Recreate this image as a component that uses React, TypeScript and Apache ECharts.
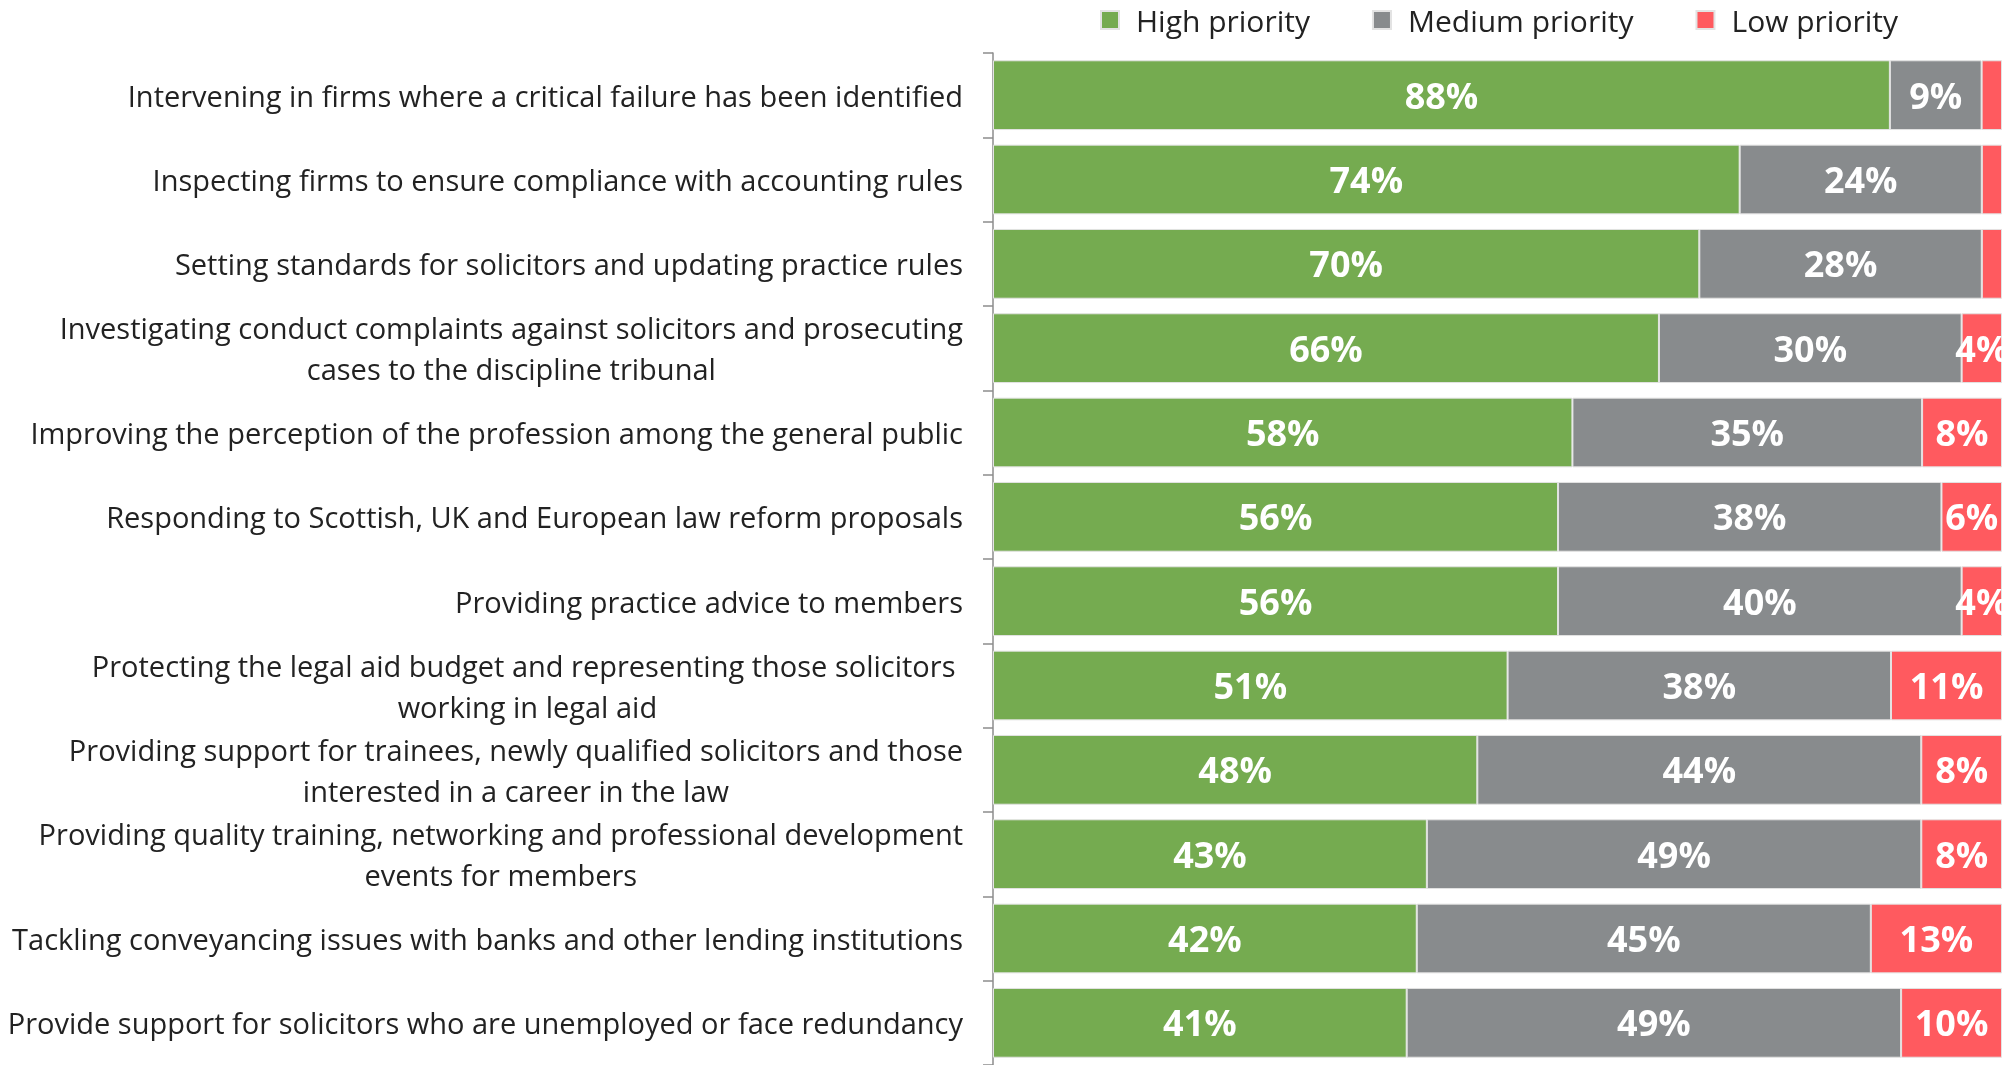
import React, { useEffect, useRef } from "react";
import * as echarts from "echarts";

const categories = [
  "Intervening in firms where a critical failure has been identified",
  "Inspecting firms to ensure compliance with accounting rules",
  "Setting standards for solicitors and updating practice rules",
  "Investigating conduct complaints against solicitors and prosecuting\ncases to the discipline tribunal",
  "Improving the perception of the profession among the general public",
  "Responding to Scottish, UK and European law reform proposals",
  "Providing practice advice to members",
  "Protecting the legal aid budget and representing those solicitors \nworking in legal aid",
  "Providing support for trainees, newly qualified solicitors and those\ninterested in a career in the law",
  "Providing quality training, networking and professional development\nevents for members",
  "Tackling conveyancing issues with banks and other lending institutions",
  "Provide support for solicitors who are unemployed or face redundancy",
];

const seriesNames = ["High priority", "Medium priority", "Low priority"];
const high = [88, 74, 70, 66, 58, 56, 56, 51, 48, 43, 42, 41];
const medium = [9, 24, 28, 30, 35, 38, 40, 38, 44, 49, 45, 49];
const low = [2, 2, 2, 4, 8, 6, 4, 11, 8, 8, 13, 10];

const colors = ["#75AB50", "#888B8D", "#FF5A5F"];
const FONT = "'Open Sans', 'Noto Sans', sans-serif";

export default function App() {
  const ref = useRef<HTMLDivElement>(null);
  useEffect(() => {
    if (!ref.current) return;
    const chart = echarts.init(ref.current, null, { renderer: "svg" });
    const raw = [high, medium, low];
    const totals = categories.map((_, i) => high[i] + medium[i] + low[i]);
    const series = raw.map((arr, s) => ({
      name: seriesNames[s],
      type: "bar",
      stack: "total",
      barCategoryGap: "17.3%",
      data: arr.map((v, i) => (v / totals[i]) * 100),
      itemStyle: { color: colors[s], borderColor: "#e3e3e3", borderWidth: 1 },
      label: {
        show: true,
        position: "inside",
        color: "#ffffff",
        fontWeight: "bold",
        fontFamily: FONT,
        fontSize: 36,
        formatter: (p: any) => {
          const v = raw[s][p.dataIndex];
          return v < 3 ? "" : v + "%";
        },
      },
    }));
    chart.setOption({
      animation: false,
      legend: {
        top: 0,
        left: 1095,
        icon: "rect",
        itemWidth: 18,
        itemHeight: 18,
        itemGap: 62,
        textStyle: {
          fontFamily: FONT,
          fontSize: 30,
          color: "#222",
          padding: [0, 0, 0, 12],
        },
        data: seriesNames,
      },
      grid: { left: 993, right: 14, top: 53, height: 1016 },
      xAxis: { type: "value", min: 0, max: 100, show: false },
      yAxis: {
        type: "category",
        inverse: true,
        data: categories,
        axisLine: { show: true, lineStyle: { color: "#8c8c8c", width: 1.5 } },
        axisTick: { show: true, length: 10, lineStyle: { color: "#8c8c8c", width: 1.5 } },
        axisLabel: {
          margin: 30,
          align: "right",
          formatter: (v: string) =>
            v
              .split("\n")
              .map((l) => `{c|${l}}`)
              .join("\n"),
          rich: {
            c: {
              align: "center",
              fontFamily: FONT,
              fontSize: 29,
              lineHeight: 41,
              color: "#222",
            },
          },
        },
      },
      series,
    });
    return () => chart.dispose();
  }, []);
  return (
    <div
      ref={ref}
      style={{ position: "fixed", left: 0, top: 0, width: "2016px", height: "1065px" }}
    />
  );
}
